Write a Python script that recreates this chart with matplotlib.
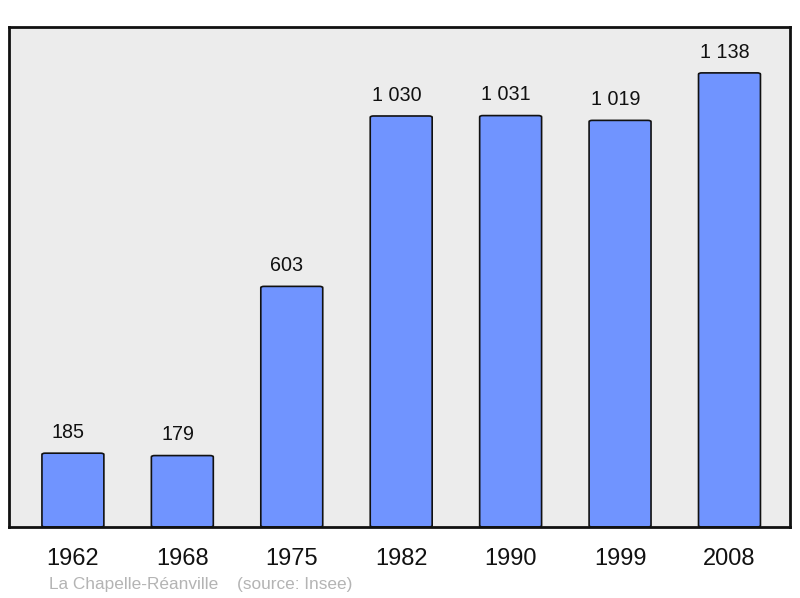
import matplotlib
matplotlib.use("Agg")
import matplotlib.pyplot as plt
from matplotlib.patches import FancyBboxPatch

years = ["1962", "1968", "1975", "1982", "1990", "1999", "2008"]
population = [185, 179, 603, 1030, 1031, 1019, 1138]
value_labels = ["185", "179", "603", "1 030", "1 031", "1 019", "1 138"]
commune = "La Chapelle-Réanville"
source = "(source: Insee)"

plt.rcParams['font.family'] = ['Liberation Sans', 'DejaVu Sans']

fig = plt.figure(figsize=(8.0, 5.98), dpi=100)
ax = fig.add_axes([9/800, 1 - 527/598, 781/800, 500/598])
ax.set_facecolor('#ececec')

xs = list(range(len(years)))
width = 0.566
for x, v, lab in zip(xs, population, value_labels):
    p = FancyBboxPatch((x - width/2, 0), width, v,
                       boxstyle="round,pad=0,rounding_size=0.03",
                       mutation_aspect=1/0.0036*0.4,
                       facecolor='#7094ff', edgecolor='#111111', linewidth=1.2,
                       zorder=2)
    ax.add_patch(p)
    ax.annotate(lab, (x, v), xytext=(-3.5, 8), textcoords='offset points',
                ha='center', va='bottom', fontsize=14.2, color='#111111')

ax.set_xlim(-0.584, 6.553)
ax.set_ylim(0, 1253)
ax.set_xticks(xs)
ax.set_xticklabels(years, fontsize=17, color='#111111')
ax.tick_params(axis='x', length=0, pad=15)
ax.set_yticks([])
for s in ax.spines.values():
    s.set_linewidth(2)
    s.set_color('#111111')

fig.text(49/800, 1 - 584/598, commune, fontsize=12.4, color='#b4b4b4', va='center', ha='left')
fig.text(237/800, 1 - 584/598, source, fontsize=12.4, color='#b4b4b4', va='center', ha='left')

fig.savefig("out.png", dpi=100)
